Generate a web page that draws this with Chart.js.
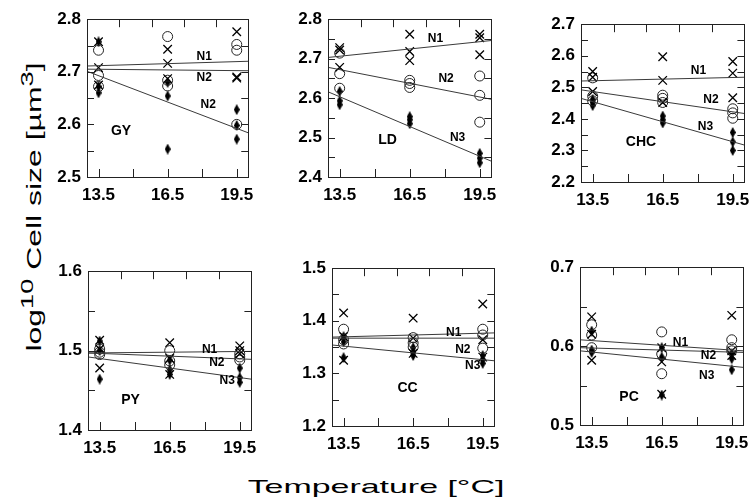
<!DOCTYPE html>
<html>
<head>
<meta charset="utf-8">
<script src="https://cdn.jsdelivr.net/npm/chart.js@4"></script>
<style>
  body { margin: 0; background: #fff; }
  #wrap { position: relative; width: 756px; height: 501px; overflow: hidden; background: #fff; }
  canvas { position: absolute; }
  .title { position: absolute; font-family: "Liberation Sans", Arial, sans-serif; color: #000; white-space: nowrap; left: 0; top: 0; }
  .title sup { font-size: 85%; vertical-align: 0.45em; }
</style>
</head>
<body>
<div id="wrap">
  <div id="ytitle" class="title" style="font-size:20px">log<sup>10</sup> Cell size [µm<sup>3</sup>]</div>
  <div id="xtitle" class="title" style="font-size:19px">Temperature [°C]</div>
</div>
<script>
// temperatures of the three treatments, and the x ends of the fitted lines
const temps = [13.5, 16.5, 19.5]
const fitX = [13, 20]
const xTickValues = [13.5, 16.5, 19.5]

// every array below: one inner list per temperature (13.5, 16.5, 19.5)
const gyN1 = [[2.757, 2.708, 2.675], [2.743, 2.716, 2.687], [2.776, 2.690, 2.688]]
const gyN2 = [[2.741, 2.693, 2.672], [2.767, 2.684, 2.673], [2.752, 2.741, 2.600]]
const gyN3 = [[2.757, 2.672, 2.660], [2.680, 2.654, 2.553], [2.628, 2.598, 2.572]]
const gyFit = [[2.711, 2.720], [2.705, 2.702], [2.701, 2.584]]
const gyTags = ["N1", "N2", "N2"]

const ldN1 = [[2.728, 2.722, 2.678], [2.762, 2.718, 2.695], [2.762, 2.753, 2.710]]
const ldN2 = [[2.714, 2.662, 2.625], [2.645, 2.637, 2.627], [2.656, 2.607, 2.539]]
const ldN3 = [[2.617, 2.593, 2.583], [2.553, 2.545, 2.535], [2.460, 2.448, 2.436]]
const ldFit = [[2.703, 2.746], [2.678, 2.597], [2.616, 2.440]]
const ldTags = ["N1", "N2", "N3"]

const chcN1 = [[2.550, 2.532, 2.487], [2.597, 2.522, 2.452], [2.582, 2.545, 2.467]]
const chcN2 = [[2.530, 2.472, 2.457], [2.475, 2.465, 2.452], [2.432, 2.419, 2.402]]
const chcN3 = [[2.462, 2.452, 2.442], [2.409, 2.397, 2.387], [2.357, 2.327, 2.300]]
const chcFit = [[2.520, 2.532], [2.492, 2.417], [2.465, 2.317]]
const chcTags = ["N1", "N2", "N3"]

const pyN1 = [[1.513, 1.502, 1.478], [1.510, 1.490, 1.470], [1.506, 1.500, 1.496]]
const pyN2 = [[1.502, 1.498, 1.495], [1.500, 1.487, 1.482], [1.496, 1.492, 1.488]]
const pyN3 = [[1.512, 1.500, 1.464], [1.488, 1.476, 1.470], [1.478, 1.466, 1.460]]
const pyFit = [[1.497, 1.499], [1.497, 1.489], [1.492, 1.464]]
const pyTags = ["N1", "N2", "N3"]

const ccN1 = [[1.415, 1.370, 1.325], [1.405, 1.367, 1.338], [1.432, 1.364, 1.331]]
const ccN2 = [[1.384, 1.364, 1.356], [1.368, 1.358, 1.350], [1.384, 1.373, 1.348]]
const ccN3 = [[1.370, 1.360, 1.330], [1.349, 1.340, 1.334], [1.334, 1.326, 1.319]]
const ccFit = [[1.369, 1.377], [1.367, 1.367], [1.354, 1.324]]
const ccTags = ["N1", "N2", "N3"]

const pcN1 = [[0.637, 0.615, 0.582], [0.598, 0.580, 0.539], [0.639, 0.594, 0.588]]
const pcN2 = [[0.627, 0.614, 0.598], [0.618, 0.590, 0.565], [0.608, 0.598, 0.594]]
const pcN3 = [[0.619, 0.595, 0.592], [0.598, 0.586, 0.538], [0.590, 0.584, 0.570]]
const pcFit = [[0.608, 0.594], [0.598, 0.592], [0.594, 0.573]]
const pcTags = ["N1", "N2", "N3"]

// panel layout: plot box [left, top, right, bottom] in page pixels, y range, label spots (data units)
const panels = [
  { name: "GY", box: [87, 11, 252, 177], y: [2.5, 2.8], n1: gyN1, n2: gyN2, n3: gyN3, fit: gyFit, tags: gyTags,
    tagAt: [[18.09, 2.729], [18.09, 2.688], [18.26, 2.637]], nameAt: [14.48, 2.588] },
  { name: "LD", box: [328, 11, 495, 177], y: [2.4, 2.8], n1: ldN1, n2: ldN2, n3: ldN3, fit: ldFit, tags: ldTags,
    tagAt: [[17.6, 2.75], [18.06, 2.648], [18.55, 2.5]], nameAt: [15.55, 2.494] },
  { name: "CHC", box: [581, 16, 748, 182], y: [2.2, 2.7], n1: chcN1, n2: chcN2, n3: chcN3, fit: chcFit, tags: chcTags,
    tagAt: [[18.03, 2.552], [18.57, 2.46], [18.33, 2.375]], nameAt: [15.57, 2.325] },
  { name: "PY", box: [88, 263, 255, 430], y: [1.4, 1.6], n1: pyN1, n2: pyN2, n3: pyN3, fit: pyFit, tags: pyTags,
    tagAt: [[18.21, 1.501], [18.52, 1.485], [18.96, 1.462]], nameAt: [14.82, 1.438] },
  { name: "CC", box: [332, 260, 498, 426], y: [1.2, 1.5], n1: ccN1, n2: ccN2, n3: ccN3, fit: ccFit, tags: ccTags,
    tagAt: [[18.25, 1.378], [18.64, 1.346], [19.07, 1.314]], nameAt: [16.26, 1.272] },
  { name: "PC", box: [580, 259, 747, 425], y: [0.5, 0.7], n1: pcN1, n2: pcN2, n3: pcN3, fit: pcFit, tags: pcTags,
    tagAt: [[17.3, 0.604], [18.5, 0.588], [18.43, 0.563]], nameAt: [15.1, 0.535] }
]

Chart.defaults.font.family = '"Liberation Sans", Arial, sans-serif'
Chart.defaults.color = "#000"

const YW = 44, XH = 32, PT = 8, PR = 10

// narrow filled diamond used for N3
const diamond = document.createElement("canvas")
diamond.width = 6
diamond.height = 11
const dctx = diamond.getContext("2d")
dctx.fillStyle = "#000"
dctx.beginPath()
dctx.moveTo(3, 0)
dctx.lineTo(6, 5.5)
dctx.lineTo(3, 11)
dctx.lineTo(0, 5.5)
dctx.closePath()
dctx.fill()

function toPoints(groups) {
  const pts = []
  groups.forEach((vals, i) => vals.forEach(v => pts.push({ x: temps[i], y: v })))
  return pts
}

// frame, inward ticks and text labels
const framePlugin = {
  id: "frame",
  afterDraw(chart) {
    const ctx = chart.ctx
    const a = chart.chartArea
    const xs = chart.scales.x, ys = chart.scales.y
    const p = chart.options.plugins.frame
    ctx.save()
    ctx.strokeStyle = "#222"
    ctx.lineWidth = 1
    ctx.strokeRect(Math.round(a.left) + 0.5, Math.round(a.top) + 0.5, Math.round(a.right - a.left), Math.round(a.bottom - a.top))
    ctx.beginPath()
    for (let v = ys.min + 0.05; v < ys.max - 0.001; v += 0.05) {
      const py = Math.round(ys.getPixelForValue(v)) + 0.5
      ctx.moveTo(a.left, py); ctx.lineTo(a.left + 7, py)
      ctx.moveTo(a.right, py); ctx.lineTo(a.right - 7, py)
    }
    for (let v = 13.5; v < 20; v += 1.5) {
      const px = Math.round(xs.getPixelForValue(v)) + 0.5
      ctx.moveTo(px, a.bottom); ctx.lineTo(px, a.bottom - 8)
    }
    for (let k = 1; k < 5; k++) {
      const px = Math.round(a.left + (a.right - a.left) * k / 5) + 0.5
      ctx.moveTo(px, a.top); ctx.lineTo(px, a.top + 8)
    }
    ctx.stroke()
    ctx.fillStyle = "#000"
    ctx.textAlign = "center"
    ctx.textBaseline = "middle"
    ctx.font = 'bold 12px "Liberation Sans", Arial, sans-serif'
    p.tags.forEach((t, i) => {
      ctx.fillText(t, xs.getPixelForValue(p.tagAt[i][0]), ys.getPixelForValue(p.tagAt[i][1]))
    })
    ctx.font = 'bold 14px "Liberation Sans", Arial, sans-serif'
    ctx.fillText(p.name, xs.getPixelForValue(p.nameAt[0]), ys.getPixelForValue(p.nameAt[1]))
    ctx.restore()
  }
}

const wrap = document.getElementById("wrap")

panels.forEach(panel => {
  const [L, T, R, B] = panel.box
  const cv = document.createElement("canvas")
  cv.width = R - L + YW + PR
  cv.height = B - T + PT + XH
  cv.style.left = (L - YW) + "px"
  cv.style.top = (T - PT) + "px"
  wrap.appendChild(cv)

  const yTicks = []
  for (let v = panel.y[0]; v <= panel.y[1] + 0.001; v += 0.1) yTicks.push({ value: Math.round(v * 10) / 10 })

  const fitSets = panel.fit.map(f => ({
    type: "line",
    data: [{ x: fitX[0], y: f[0] }, { x: fitX[1], y: f[1] }],
    borderColor: "#3a3a3a",
    borderWidth: 1,
    pointRadius: 0,
    fill: false
  }))

  new Chart(cv, {
    type: "scatter",
    data: {
      datasets: [
        ...fitSets,
        { label: "N1", data: toPoints(panel.n1), pointStyle: "crossRot", pointRadius: 6,
          borderColor: "#000", borderWidth: 1.3, backgroundColor: "#000" },
        { label: "N2", data: toPoints(panel.n2), pointStyle: "circle", pointRadius: 5,
          borderColor: "#222", borderWidth: 1, backgroundColor: "rgba(0,0,0,0)" },
        { label: "N3", data: toPoints(panel.n3), pointStyle: diamond, pointRadius: 5 }
      ]
    },
    options: {
      responsive: false,
      animation: false,
      devicePixelRatio: 1,
      events: [],
      layout: { padding: { left: 0, top: PT, right: PR, bottom: 0 } },
      plugins: {
        legend: { display: false },
        tooltip: { enabled: false },
        frame: { tags: panel.tags, tagAt: panel.tagAt, name: panel.name, nameAt: panel.nameAt }
      },
      scales: {
        x: {
          type: "linear", min: 13, max: 20,
          grid: { display: false, drawTicks: false },
          border: { display: false },
          afterBuildTicks: s => { s.ticks = xTickValues.map(v => ({ value: v })) },
          afterFit: s => { s.height = XH },
          ticks: { font: { size: 17, weight: "bold" }, padding: 8, maxRotation: 0, callback: v => v.toFixed(1) }
        },
        y: {
          type: "linear", min: panel.y[0], max: panel.y[1],
          grid: { display: false, drawTicks: false },
          border: { display: false },
          afterBuildTicks: s => { s.ticks = yTicks.map(t => ({ value: t.value })) },
          afterFit: s => { s.width = YW },
          ticks: { font: { size: 17, weight: "bold" }, padding: 6, callback: v => v.toFixed(1) }
        }
      }
    },
    plugins: [framePlugin]
  })
})

// axis titles, stretched wide like the original lettering
function placeTitle(el, cx, cy, len, rotate) {
  const w = el.offsetWidth
  const k = len / w
  el.style.transformOrigin = "0 0"
  el.style.left = cx + "px"
  el.style.top = cy + "px"
  el.style.transform = (rotate ? "rotate(-90deg) " : "") + "scaleX(" + k + ") translate(-50%, -50%)"
}
placeTitle(document.getElementById("xtitle"), 376, 487, 257, false)
placeTitle(document.getElementById("ytitle"), 32, 207, 289, true)
</script>
</body>
</html>
